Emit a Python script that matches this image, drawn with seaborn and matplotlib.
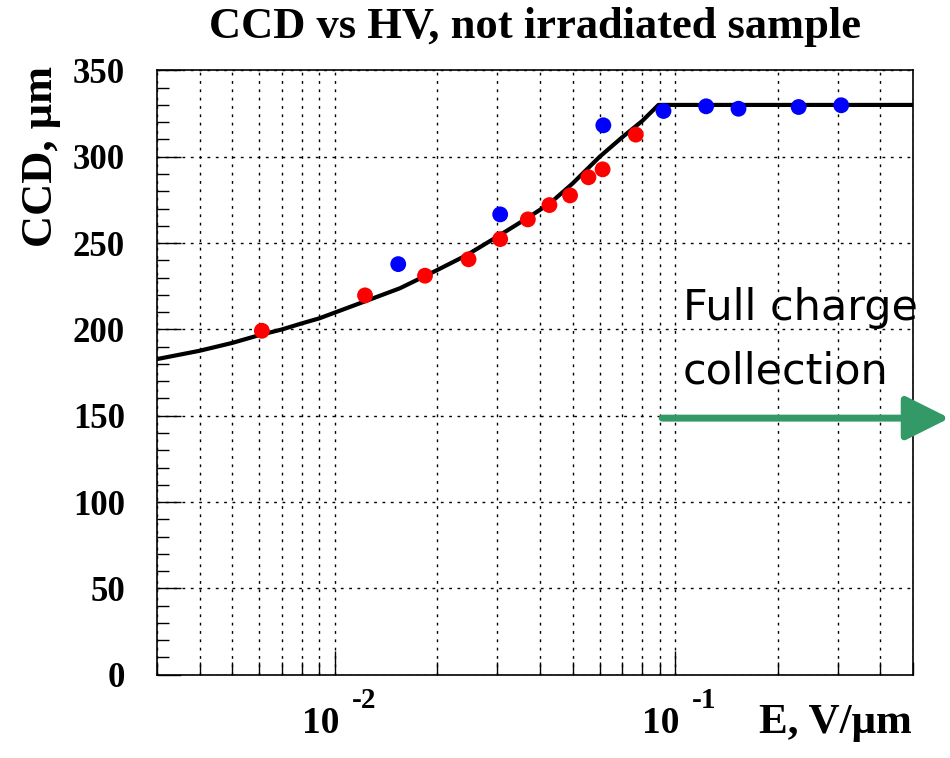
import numpy as np
import pandas as pd
import matplotlib
matplotlib.use("Agg")
import matplotlib.pyplot as plt
import matplotlib.transforms as mtransforms
import seaborn as sns
from matplotlib.ticker import LogLocator, MultipleLocator, NullFormatter, FixedLocator

# ---- data ----
red_E = [0.0061, 0.01226, 0.0184, 0.0247, 0.0306, 0.0369, 0.0427, 0.0491, 0.0556, 0.0612, 0.0766]
red_CCD = [199.2, 219.7, 231.1, 240.6, 252.3, 263.7, 272.0, 277.6, 288.1, 292.7, 312.8]
blue_E = [0.01535, 0.0306, 0.0615, 0.0924, 0.1233, 0.1535, 0.2306, 0.3076]
blue_CCD = [237.8, 266.6, 318.2, 326.5, 329.2, 327.8, 328.8, 329.8]
fit_E = [0.003, 0.004, 0.005, 0.006, 0.007, 0.008, 0.009, 0.01146, 0.01552, 0.02,
         0.02439, 0.02994, 0.03665, 0.04285, 0.05, 0.06, 0.07, 0.08, 0.0893, 0.5]
fit_CCD = [182.8, 187.6, 192.2, 196.7, 200.0, 203.5, 206.4, 214.1, 223.8, 234.4,
           243.0, 253.6, 264.3, 273.0, 284.6, 300.0, 311.4, 320.7, 330.0, 330.0]
x_ticks = [0.01, 0.1]
x_tick_exponents = ["-2", "-1"]
y_ticks = [0, 50, 100, 150, 200, 250, 300, 350]
title = "CCD vs HV, not irradiated sample"
xlabel = "E, V/\u03bcm"
ylabel = "CCD, \u03bcm"
note_lines = ["Full charge", "collection"]

sns.set_theme(style="white")
plt.rcParams["font.family"] = ["Liberation Serif", "DejaVu Serif"]
for k in ["text.color", "axes.labelcolor", "xtick.color", "ytick.color", "axes.edgecolor"]:
    plt.rcParams[k] = "black"

fig = plt.figure(figsize=(9.5, 7.58), dpi=100)
ax = fig.add_axes([157 / 950, 1 - 674.7 / 758, (913 - 157) / 950, (674.7 - 70.4) / 758])

df_red = pd.DataFrame({"E": red_E, "CCD": red_CCD})
df_blue = pd.DataFrame({"E": blue_E, "CCD": blue_CCD})
df_fit = pd.DataFrame({"E": fit_E, "CCD": fit_CCD})

ax.set_xscale("log")
ax.set_xlim(0.003, 0.5)
ax.set_ylim(0, 350)

# grid
grid_kw = dict(color="black", lw=1.0, linestyle=(0, (2, 4)), zorder=0)
ax.xaxis.set_major_locator(FixedLocator(x_ticks))
ax.xaxis.set_minor_locator(LogLocator(base=10, subs=np.arange(2, 10)))
ax.xaxis.set_minor_formatter(NullFormatter())
ax.xaxis.set_major_formatter(NullFormatter())
ax.yaxis.set_major_locator(FixedLocator(y_ticks))
ax.yaxis.set_minor_locator(MultipleLocator(10))
ax.grid(True, which="both", axis="x", **grid_kw)
ax.grid(True, which="major", axis="y", **grid_kw)

sns.lineplot(data=df_fit, x="E", y="CCD", ax=ax, color="black", lw=3, zorder=3,
             estimator=None, sort=False)
sns.scatterplot(data=df_red, x="E", y="CCD", ax=ax, color="red", s=130, edgecolor="none", zorder=4)
sns.scatterplot(data=df_blue, x="E", y="CCD", ax=ax, color="blue", s=130, edgecolor="none", zorder=4)

for sp in ax.spines.values():
    sp.set_color("black")
    sp.set_linewidth(1.2)

ax.tick_params(axis="both", which="both", direction="in", top=False, right=False,
               left=True, bottom=True, color="black", width=1.0)
ax.tick_params(axis="y", which="major", length=17, pad=23, labelsize=25)
ax.tick_params(axis="y", which="minor", length=8.5)
ax.tick_params(axis="x", which="major", length=17)
ax.tick_params(axis="x", which="minor", length=9.5)
for lab in ax.get_yticklabels():
    lab.set_fontweight("bold")

# ROOT-style x tick labels: "10" with a raised exponent
base_tr = mtransforms.blended_transform_factory(ax.transData, fig.transFigure)
for xt, ex in zip(x_ticks, x_tick_exponents):
    tr10 = mtransforms.offset_copy(base_tr, fig=fig, x=4, y=0, units="dots")
    ax.text(xt, 1 - 733 / 758, "10", transform=tr10, ha="right", va="baseline",
            fontsize=27, fontweight="bold", clip_on=False)
    trex = mtransforms.offset_copy(base_tr, fig=fig, x=17, y=0, units="dots")
    ax.text(xt, 1 - 708 / 758, ex, transform=trex, ha="left", va="baseline",
            fontsize=21, fontweight="bold", clip_on=False)

ax.set_xlabel("")
ax.set_ylabel("")
fig.text(912 / 950, 1 - 733 / 758, xlabel, ha="right", va="baseline",
         fontsize=31, fontweight="bold")
fig.text(41 / 950, 1 - 66 / 758, ylabel, ha="center", va="top", rotation=90,
         fontsize=32, fontweight="bold")
fig.text(535 / 950, 1 - 27 / 758, title, ha="center", va="center",
         fontsize=32, fontweight="bold")

# annotation text and arrow
for line, base in zip(note_lines, [320, 383]):
    fig.text(683 / 950, 1 - base / 758, line, ha="left", va="baseline",
             fontsize=31, family=["DejaVu Sans"], color="black")
ax.annotate("", xy=(0.64, 148.6), xytext=(0.0916, 148.6),
            arrowprops=dict(arrowstyle="-|>,head_length=0.9,head_width=0.45",
                            color="#339966", lw=5, mutation_scale=30,
                            shrinkA=0, shrinkB=0),
            annotation_clip=False, zorder=5)

fig.savefig("out.png", dpi=100)
